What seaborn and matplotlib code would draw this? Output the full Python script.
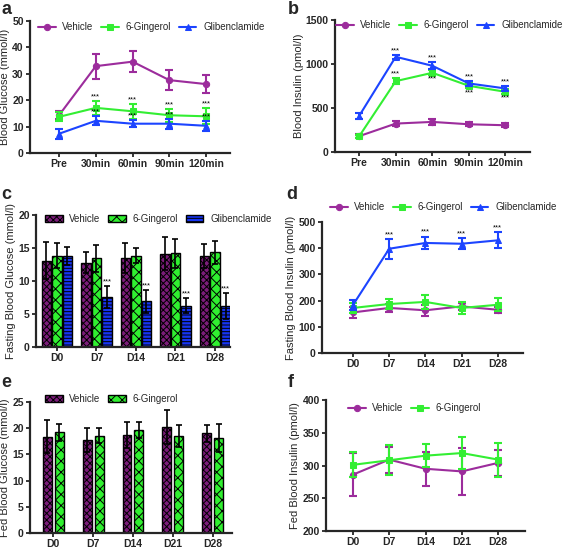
import numpy as np
import pandas as pd
import matplotlib
matplotlib.use('Agg')
import matplotlib.pyplot as plt
import seaborn as sns

sns.set_style('ticks')
plt.rcParams['font.family'] = ['Liberation Sans', 'DejaVu Sans']
plt.rcParams['hatch.linewidth'] = 0.7

# categories
times = ['Pre', '30min', '60min', '90min', '120min']
days = ['D0', 'D7', 'D14', 'D21', 'D28']
groups3 = ['Vehicle', '6-Gingerol', 'Glibenclamide']
groups2 = ['Vehicle', '6-Gingerol']

# a - blood glucose (OGTT)
a_veh = [14.3, 32.9, 34.6, 27.6, 26.1]
a_veh_err = [1.5, 4.7, 3.9, 3.9, 3.5]
a_gin = [13.7, 17.1, 15.8, 14.3, 13.9]
a_gin_err = [1.7, 2.7, 2.8, 2.5, 3.0]
a_gli = [7.3, 12.2, 11.1, 11.1, 10.3]
a_gli_err = [1.9, 1.7, 1.3, 1.9, 1.9]

# b - blood insulin
b_veh = [180, 323, 342, 315, 304]
b_veh_err = [20, 25, 30, 25, 25]
b_gin = [178, 805, 900, 752, 684]
b_gin_err = [20, 35, 30, 30, 30]
b_gli = [410, 1082, 980, 779, 722]
b_gli_err = [35, 25, 40, 30, 25]

# c - fasting blood glucose
c_veh = [13.1, 12.8, 13.45, 14.1, 13.75]
c_veh_err = [2.8, 1.6, 2.25, 2.5, 1.85]
c_gin = [13.85, 13.45, 13.85, 14.2, 14.35]
c_gin_err = [1.85, 2.05, 1.15, 2.2, 1.7]
c_gli = [13.85, 7.55, 6.9, 6.25, 6.25]
c_gli_err = [1.35, 1.65, 1.8, 1.15, 1.95]

# d - fasting blood insulin
d_veh = [155, 172, 163, 178, 165]
d_veh_err = [20, 14, 20, 14, 12]
d_gin = [172, 187, 195, 172, 184]
d_gin_err = [18, 20, 28, 22, 25]
d_gli = [184, 398, 420, 417, 430]
d_gli_err = [20, 38, 24, 21, 30]

# e - fed blood glucose
e_veh = [18.4, 17.7, 18.7, 20.15, 19.0]
e_veh_err = [3.1, 2.3, 2.5, 3.25, 1.6]
e_gin = [19.2, 18.6, 19.65, 18.6, 18.1]
e_gin_err = [1.6, 1.4, 1.55, 2.1, 2.7]

# f - fed blood insulin
f_veh = [286, 309, 295, 291, 304]
f_veh_err = [33, 20, 26, 36, 20]
f_gin = [301, 308, 315, 319, 309]
f_gin_err = [19, 23, 18, 24, 26]

line_colors = {'Vehicle': '#9c2c9c', '6-Gingerol': '#33ee33', 'Glibenclamide': '#1c44ff'}
bar_colors = {'Vehicle': '#7c1c7a', '6-Gingerol': '#30f030', 'Glibenclamide': '#1634f2'}
markers = {'Vehicle': 'o', '6-Gingerol': 's', 'Glibenclamide': '^'}
hatches = {'Vehicle': 'xxxxx', '6-Gingerol': 'xxx', 'Glibenclamide': '-----'}

W, H = 566, 549
fig = plt.figure(figsize=(W / 100, H / 100), dpi=100)


def box(l, t, r, b):
    return [l / W, 1 - b / H, (r - l) / W, (b - t) / H]


def style(ax, ylabel, yticks, xlim):
    sns.despine(ax=ax)
    for s in ['left', 'bottom']:
        ax.spines[s].set_linewidth(1.6)
    ax.tick_params(width=1.3, length=3, labelsize=7.5, pad=1.5)
    ax.set_ylim(yticks[0], yticks[-1])
    ax.set_yticks(yticks)
    ax.set_xlim(*xlim)
    ax.set_xlabel('')
    ax.set_ylabel(ylabel, fontsize=8, labelpad=1.5)
    for lbl in ax.get_xticklabels() + ax.get_yticklabels():
        lbl.set_fontweight('bold')


def leg(ax, x, y, ncol, handles=None, labels=None):
    kw = dict(loc='center left', bbox_to_anchor=(x / W, 1 - y / H), bbox_transform=fig.transFigure,
              ncol=ncol, frameon=False, fontsize=7, handlelength=1.8, handletextpad=0.7,
              columnspacing=0.8, borderaxespad=0, borderpad=0)
    if handles is not None:
        kw['handles'] = handles
        kw['labels'] = labels
    ax.legend(**kw)


def line_panel(ax, labels, data, ylabel, yticks, xlim):
    x = np.arange(len(labels))
    for g, (m, e) in data.items():
        df = pd.DataFrame({'x': x, 'y': m})
        sns.lineplot(data=df, x='x', y='y', ax=ax, color=line_colors[g], marker=markers[g],
                     markersize=4.5, markeredgecolor=line_colors[g], linewidth=1.5, label=g, errorbar=None)
        ax.errorbar(x, m, yerr=e, fmt='none', ecolor=line_colors[g], elinewidth=1.5, capsize=3, capthick=1.5)
    ax.set_xticks(x)
    ax.set_xticklabels(labels)
    style(ax, ylabel, yticks, xlim)


def bar_panel(ax, data, ylabel, yticks, xlim, width, gap):
    rows = []
    for g, (m, e) in data.items():
        for d, v in zip(days, m):
            rows.append({'day': d, 'group': g, 'value': v})
    df = pd.DataFrame(rows)
    sns.barplot(data=df, x='day', y='value', hue='group', hue_order=list(data.keys()),
                palette=bar_colors, saturation=1, errorbar=None, width=width, gap=gap,
                edgecolor='black', linewidth=1.0, ax=ax)
    bars = list(ax.containers)
    for cont, (g, (m, e)) in zip(bars, data.items()):
        xs = []
        for bar in cont:
            bar.set_hatch(hatches[g])
            xs.append(bar.get_x() + bar.get_width() / 2)
        ax.errorbar(xs, m, yerr=e, fmt='none', ecolor='black', elinewidth=1.2, capsize=2.5, capthick=1.2)
    style(ax, ylabel, yticks, xlim)
    return bars


def stars(ax, xs, ys, va='bottom'):
    for x, y in zip(xs, ys):
        ax.text(x, y, '***', ha='center', va=va, fontsize=5.5, color='black')


# ---- a
ax = fig.add_axes(box(30, 21, 230, 153))
line_panel(ax, times, {'Vehicle': (a_veh, a_veh_err), '6-Gingerol': (a_gin, a_gin_err),
                       'Glibenclamide': (a_gli, a_gli_err)},
           'Blood Glucose (mmol/l)', [0, 10, 20, 30, 40, 50], (-0.79, 4.65))
leg(ax, 38, 27, 3)
idx = np.arange(1, 5)
stars(ax, idx, [a_gin[i] + a_gin_err[i] + 0.2 for i in idx])
stars(ax, idx, [a_gli[i] + a_gli_err[i] + 0.2 for i in idx])

# ---- b
ax = fig.add_axes(box(335, 20, 530, 152))
line_panel(ax, times, {'Vehicle': (b_veh, b_veh_err), '6-Gingerol': (b_gin, b_gin_err),
                       'Glibenclamide': (b_gli, b_gli_err)},
           'Blood Insulin (pmol/l)', [0, 500, 1000, 1500], (-0.66, 4.67))
leg(ax, 336, 25, 3)
stars(ax, idx, [b_gli[i] + b_gli_err[i] + 5 for i in idx])
stars(ax, [1], [b_gin[1] + b_gin_err[1] + 5])
stars(ax, idx[1:], [b_gin[i] - b_gin_err[i] - 5 for i in idx[1:]], va='top')

# ---- c
ax = fig.add_axes(box(36, 215, 230, 347))
conts = bar_panel(ax, {'Vehicle': (c_veh, c_veh_err), '6-Gingerol': (c_gin, c_gin_err),
                       'Glibenclamide': (c_gli, c_gli_err)},
                  'Fasting Blood Glucose (mmol/l)', [0, 5, 10, 15, 20], (-0.53, 4.38), 0.8, 0.08)
leg(ax, 45, 219, 3, handles=[c[0] for c in conts], labels=groups3)
gx = [b.get_x() + b.get_width() / 2 for b in conts[2]]
stars(ax, gx[1:], [c_gli[i] + c_gli_err[i] + 0.1 for i in idx])

# ---- d
ax = fig.add_axes(box(322, 222, 523, 353))
line_panel(ax, days, {'Vehicle': (d_veh, d_veh_err), '6-Gingerol': (d_gin, d_gin_err),
                      'Glibenclamide': (d_gli, d_gli_err)},
           'Fasting Blood Insulin (pmol/l)', [0, 100, 200, 300, 400, 500], (-0.86, 4.7))
leg(ax, 330, 207, 3)
stars(ax, idx, [d_gli[i] + d_gli_err[i] + 3 for i in idx])

# ---- e
ax = fig.add_axes(box(30, 402, 232, 533))
conts = bar_panel(ax, {'Vehicle': (e_veh, e_veh_err), '6-Gingerol': (e_gin, e_gin_err)},
                  'Fed Blood Glucose (mmol/l)', [0, 5, 10, 15, 20, 25], (-0.58, 4.48), 0.6, 0.25)
leg(ax, 45, 399, 2, handles=[c[0] for c in conts], labels=groups2)

# ---- f
ax = fig.add_axes(box(326, 400, 525, 531))
line_panel(ax, days, {'Vehicle': (f_veh, f_veh_err), '6-Gingerol': (f_gin, f_gin_err)},
           'Fed Blood Insulin (pmol/l)', [200, 250, 300, 350, 400], (-0.74, 4.74))
leg(ax, 348, 408, 2)

# panel letters
for letter, x, y in [('a', 1, 1), ('b', 288, 1), ('c', 1, 186), ('d', 286, 186),
                     ('e', 1, 374), ('f', 288, 374)]:
    fig.text(x / W, 1 - y / H, letter, fontsize=13, fontweight='bold', va='top', ha='left')

fig.savefig('out.png', dpi=100)
